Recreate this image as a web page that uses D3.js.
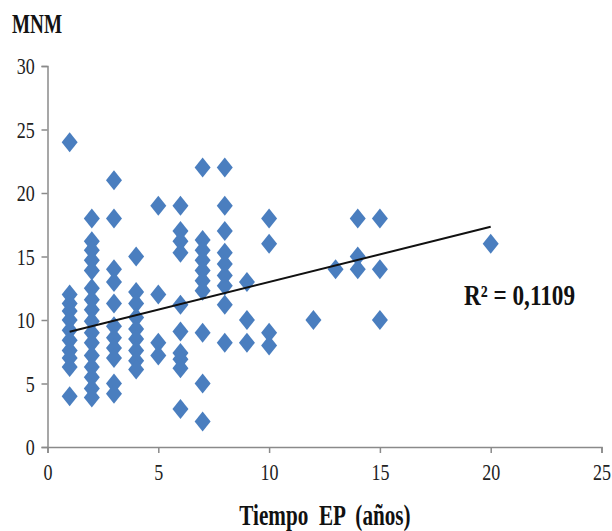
<!DOCTYPE html>
<html><head><meta charset="utf-8">
<script src="https://cdn.jsdelivr.net/npm/d3@7/dist/d3.min.js"></script>
<style>
html,body{margin:0;padding:0;background:#fff;}
svg{display:block;}
</style></head>
<body>
<script>
// Data
const tiempo = [
 1,1,1,1,1,1,1,1,1,1,1,
 2,2,2,2,2,2,2,2,2,2,2,2,2,2,2,2,
 3,3,3,3,3,3,3,3,3,3,3,
 4,4,4,4,4,4,4,4,4,
 5,5,5,5,
 6,6,6,6,6,6,6,6,6,6,
 7,7,7,7,7,7,7,7,7,7,
 8,8,8,8,8,8,8,8,8,
 9,9,9,
 10,10,10,10,
 12,
 13,
 14,14,14,
 15,15,15,
 20
];
const mnm = [
 24,12,11.3,10.7,10,9.2,8.4,7.6,7,6.3,4,
 18,16.2,15.5,14.7,13.9,12.5,11.6,10.8,9.9,9,8.2,7.2,6.3,5.5,4.6,3.9,
 21,18,14,13,11.3,9.5,8.6,7.8,7,5,4.2,
 15,12.2,11.3,10.2,9.3,8.5,7.6,6.8,6.1,
 19,12,8.2,7.2,
 19,17,16.2,15.3,11.2,9.1,7.4,6.9,6.2,3,
 22,16.3,15.5,14.7,13.9,13.1,12.3,9,5,2,
 22,19,17,15.3,14.4,13.5,12.7,11.2,8.2,
 13,10,8.2,
 18,16,9,8,
 10,
 14,
 18,15,14,
 18,14,10,
 16
];
const xTicks = [0,5,10,15,20,25];
const yTicks = [0,5,10,15,20,25,30];
const trendSlope = 0.435;
const trendIntercept = 8.64;
const r2Label = "R² = 0,1109";
const yTitle = "MNM";
const xTitle = "Tiempo  EP  (años)";

const W = 612, H = 531;
const svg = d3.select("body").append("svg").attr("width", W).attr("height", H);

const x = d3.scaleLinear().domain([0,25]).range([47.5, 601.5]);
const y = d3.scaleLinear().domain([0,30]).range([447, 66]);

const axisColor = "#8a8a8a";
const serif = "'Liberation Serif','DejaVu Serif',serif";

// axes
const gx = svg.append("g").attr("transform", `translate(0,${y(0)})`)
  .call(d3.axisBottom(x).tickValues(xTicks).tickSize(6).tickPadding(10).tickFormat(d3.format("d")));
const gy = svg.append("g").attr("transform", `translate(${x(0)},0)`)
  .call(d3.axisLeft(y).tickValues(yTicks).tickSize(6).tickPadding(11).tickFormat(d3.format("d")));
[gx, gy].forEach(g => {
  g.select(".domain").attr("stroke", axisColor).attr("stroke-width", 1.5);
  g.selectAll(".tick line").attr("stroke", axisColor).attr("stroke-width", 1.5);
  g.selectAll(".tick text").attr("fill", "#222").attr("font-family", serif).attr("font-size", 24);
});
gx.selectAll(".tick text").attr("transform", "scale(0.75,1)");
gy.selectAll(".tick text").attr("transform", "scale(0.75,1)");

// points
const pts = tiempo.map((t, i) => ({t, v: mnm[i]}));
const hw = 8, hh = 10;
svg.append("g").selectAll("path").data(pts).join("path")
  .attr("d", `M0,${-hh}L${hw},0L0,${hh}L${-hw},0Z`)
  .attr("transform", d => `translate(${x(d.t)},${y(d.v)})`)
  .attr("fill", "#4a7ebf");

// trend line
const tx = d3.extent(tiempo);
svg.append("line")
  .attr("x1", x(tx[0])).attr("y1", y(trendIntercept + trendSlope*tx[0]))
  .attr("x2", x(tx[1])).attr("y2", y(trendIntercept + trendSlope*tx[1]))
  .attr("stroke", "#111").attr("stroke-width", 2);

// texts
function label(txt, px, py, size, sx, anchor) {
  svg.append("text").attr("x", px).attr("y", py)
    .attr("text-anchor", anchor || "start")
    .style("white-space", "pre")
    .attr("transform", `translate(${px},${py}) scale(${sx},1) translate(${-px},${-py})`)
    .attr("font-family", serif).attr("font-weight", "bold").attr("font-size", size)
    .attr("fill", "#111").text(txt);
}
label(yTitle, 12, 33, 27, 0.71);
label(xTitle, 325, 525, 29, 0.73, "middle");
label(r2Label, 464, 305, 29, 0.8);
</script>
</body></html>
